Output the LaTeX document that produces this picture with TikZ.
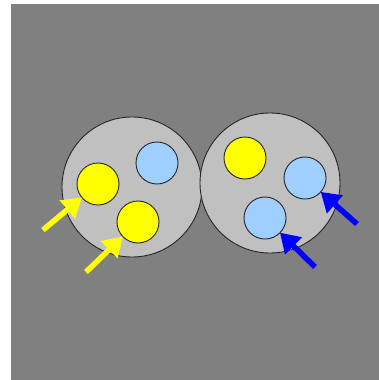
\documentclass[tikz,border=0pt]{standalone}
\usepackage{xcolor}
\definecolor{bgGray}{HTML}{808080}
\definecolor{cellGray}{HTML}{C0C0C0}
\definecolor{dotYellow}{HTML}{FFFF00}
\definecolor{dotBlue}{HTML}{9FCFFF}
\definecolor{arrBlue}{HTML}{0000FF}
\usepackage{tikz}
\usetikzlibrary{arrows.meta}

\begin{document}
\begin{tikzpicture}[
  x=1pt,y=-1pt,
  cell/.style={circle,draw=black!85,line width=0.9pt,fill=cellGray,inner sep=0pt,minimum size=140pt},
  dot/.style={circle,draw=black!85,line width=0.9pt,inner sep=0pt,minimum size=42pt},
  ydot/.style={dot,fill=dotYellow},
  bdot/.style={dot,fill=dotBlue},
  arr/.style={-{Triangle[length=19pt,width=23pt]},line width=5.5pt,shorten >=-0.5pt}
]
\useasboundingbox (0,0) rectangle (379,380);
\fill[bgGray] (11,4) rectangle (379,380);
% two cells
\node[cell] (left) at (132,187) {};
\node[cell] (right) at (270,183) {};
% dots in the left cell
\node[ydot] (ly1) at (98,184) {};
\node[bdot] (lb) at (157,163) {};
\node[ydot] (ly2) at (138,222) {};
% dots in the right cell
\node[ydot] (ry) at (245,158) {};
\node[bdot] (rb1) at (305,178) {};
\node[bdot] (rb2) at (265,218) {};
% arrows
\coordinate (ya) at (43,230);
\coordinate (yb) at (86,272);
\coordinate (ba) at (357,224);
\coordinate (bb) at (315,267);
\draw[arr,draw=dotYellow,fill=dotYellow] (ya) -- (ly1);
\draw[arr,draw=dotYellow,fill=dotYellow] (yb) -- (ly2);
\draw[arr,draw=arrBlue,fill=arrBlue] (ba) -- (rb1);
\draw[arr,draw=arrBlue,fill=arrBlue] (bb) -- (rb2);
\end{tikzpicture}
\end{document}
